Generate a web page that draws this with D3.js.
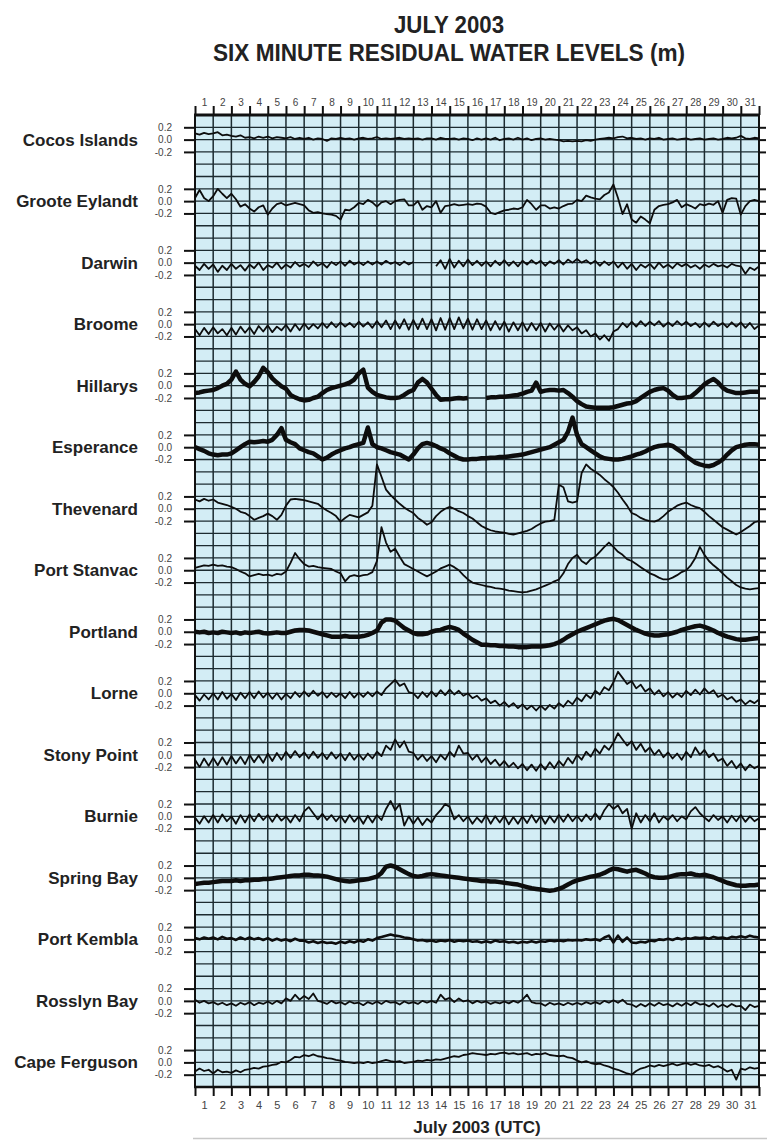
<!DOCTYPE html>
<html>
<head>
<meta charset="utf-8">
<script src="https://cdn.jsdelivr.net/npm/d3@7"></script>
<style>
  body { margin: 0; background: #fff; }
  svg { display: block; font-family: "Liberation Sans", Arial, sans-serif; }
</style>
</head>
<body>
<script>
// Station names, top to bottom
const stations = ["Cocos Islands", "Groote Eylandt", "Darwin", "Broome", "Hillarys", "Esperance",
  "Thevenard", "Port Stanvac", "Portland", "Lorne", "Stony Point", "Burnie", "Spring Bay",
  "Port Kembla", "Rosslyn Bay", "Cape Ferguson"];

// Residuals (m), read every quarter day from 1 July 00:00 to 1 August 00:00 (null = no data)
const cocos = [.10,.08,.11,.09, .10,.12,.07,.08, .06,.05,.07,.03, .04,.02,.05,.03, .05,.02,.04,.03,
  .02,.04,.01,.03, .01,.03,.00,.02, .01,-.02,.02,.01, .03,.01,.02,.00, .02,.03,.01,.02,
  .04,.01,.02,.01, .02,.03,.01,.02, .01,.02,.00,.02, .02,.00,.03,.01, .01,.02,.00,.02,
  .01,-.01,.02,.00, .02,.00,.03,-.01, .01,.02,.00,.03, .00,.02,-.01,.01, .02,.00,.01,.00,
  -.01,-.03,-.02,-.03, -.02,-.03,-.01,-.02, .00,.01,.02,.03, .02,.04,.05,.02, .03,.01,.02,.00,
  .02,.01,.03,.00, .01,.02,.00,.01, .02,.00,.01,.02, .00,.01,.02,.00, .01,.03,.02,.03,
  .06,.02,.01,.03, .02];
const groote = [.05,.18,.05,.00, .08,.20,.12,.05, .12,.03,-.09,-.05, -.12,-.17,-.10,-.07, -.22,-.12,-.05,-.03,
  -.07,-.05,-.03,-.05, -.07,-.15,-.19,-.18, -.20,-.21,-.22,-.24, -.30,-.14,-.15,-.10, -.03,-.05,.02,-.02,
  -.09,-.02,.00,-.05, .00,.02,.03,-.07, -.07,.00,-.14,-.08, -.10,.00,-.19,-.08, -.07,-.05,-.07,-.06,
  -.05,-.06,-.04,-.05, -.09,-.19,-.21,-.18, -.15,-.14,-.12,-.13, -.10,.02,-.05,-.14, -.07,-.07,-.12,-.10,
  -.12,-.08,-.05,-.04, .02,.00,.09,.06, .04,.03,.10,.14, .27,.05,-.21,-.05, -.30,-.35,-.25,-.30,
  -.36,-.14,-.08,-.06, -.05,-.02,.02,-.10, -.05,-.08,-.12,-.05, -.07,-.04,-.06,.00, -.19,.02,.05,.04,
  -.22,-.08,.00,.02, .00];
const darwin = [-.05,-.12,-.02,-.10, -.03,-.15,-.05,-.12, -.02,-.10,-.04,-.13, -.03,-.09,.00,-.12, -.04,-.08,.00,-.10,
  -.03,-.08,.01,-.06, -.02,-.07,.02,-.05, -.01,-.08,.01,-.04, .02,-.05,.03,-.03, .01,-.04,.02,-.03,
  .02,-.03,.03,-.02, .01,-.04,.02,-.03, .01,null,null,null, null,-.06,.04,-.10, .06,-.08,.03,-.06,
  .05,-.04,.03,-.05, .02,-.06,.03,-.04, .04,-.05,.02,-.06, .03,-.03,.04,-.02, .03,-.05,.02,-.02,
  .04,-.03,.05,.00, .06,.00,.04,-.02, .03,-.05,.02,-.04, .02,-.08,.00,-.10, -.02,-.12,-.03,-.08,
  -.02,-.10,.00,-.08, -.03,-.09,-.01,-.06, -.02,-.08,-.04,-.10, -.03,-.07,-.02,-.06, -.04,-.08,-.02,-.05,
  -.06,-.18,-.08,-.12, -.06];
const broome = [-.08,-.18,-.06,-.16, -.05,-.15,-.08,-.18, -.06,-.17,-.04,-.14, -.05,-.16,-.03,-.12, -.02,-.13,-.04,-.10,
  -.01,-.12,.00,-.10, .01,-.08,.00,-.07, .02,-.06,.03,-.05, .03,-.04,.02,-.05, .04,-.04,.03,-.06,
  .05,-.05,.06,-.08, .06,-.07,.08,-.09, .07,-.08,.09,-.08, .08,-.10,.10,-.09, .10,-.08,.11,-.07,
  .09,-.09,.08,-.08, .06,-.10,.05,-.09, .04,-.12,.03,-.10, .03,-.11,.02,-.10, .02,-.12,.01,-.09,
  .00,-.12,-.02,-.10, -.05,-.15,-.10,-.20, -.15,-.25,-.18,-.27, -.12,-.08,.02,-.05, .04,-.04,.05,-.03,
  .04,-.02,.05,-.04, .03,-.03,.05,-.02, .04,-.03,.02,-.05, .03,-.04,.04,-.03, .02,-.05,.03,-.04,
  .03,-.06,.02,-.08, -.02];
const hillarys = [-.12,-.11,-.09,-.08, -.07,-.04,.00,.03, .10,.23,.10,.03, -.01,.06,.15,.29, .22,.12,.05,-.01,
  -.05,-.15,-.19,-.22, -.24,-.23,-.20,-.18, -.12,-.07,-.04,-.02, .00,.02,.05,.10, .20,.26,-.03,-.10,
  -.15,-.17,-.19,-.20, -.20,-.19,-.15,-.10, -.07,.05,.11,.05, -.05,-.15,-.23,-.22, -.22,-.21,-.20,-.21,
  -.20,null,null,null, -.20,-.19,-.19,-.18, -.18,-.17,-.16,-.15, -.13,-.10,-.08,.05, -.10,-.08,-.07,-.07,
  -.08,-.07,-.12,-.18, -.25,-.30,-.34,-.35, -.36,-.36,-.36,-.36, -.35,-.33,-.31,-.29, -.28,-.25,-.20,-.15,
  -.10,-.07,-.05,-.04, -.08,-.15,-.20,-.20, -.19,-.18,-.12,-.05, .02,.07,.11,.05, -.03,-.08,-.10,-.12,
  -.12,-.11,-.10,-.10, -.10];
const esperance = [.00,-.03,-.06,-.10, -.12,-.13,-.12,-.12, -.10,-.05,.00,.05, .09,.08,.09,.10, .09,.12,.20,.31,
  .12,.08,.05,-.02, -.05,-.08,-.10,-.15, -.20,-.17,-.12,-.08, -.05,-.02,.00,.03, .05,.07,.32,.05,
  .00,-.02,-.05,-.08, -.10,-.12,-.16,-.20, -.12,-.02,.05,.07, .05,.02,-.02,-.05, -.10,-.14,-.18,-.20,
  -.20,-.19,-.19,-.18, -.18,-.17,-.17,-.16, -.16,-.15,-.14,-.13, -.12,-.10,-.08,-.06, -.04,-.02,.00,.04,
  .08,.12,.25,.48, .20,.05,.00,-.05, -.10,-.15,-.18,-.19, -.20,-.20,-.19,-.17, -.15,-.12,-.10,-.07,
  -.03,.00,.02,.03, .04,.02,-.03,-.08, -.15,-.20,-.25,-.28, -.30,-.31,-.29,-.25, -.20,-.12,-.05,.00,
  .02,.04,.05,.05, .04];
const thevenard = [.15,.12,.16,.13, .15,.10,.08,.06, .03,.00,-.05,-.07, -.12,-.18,-.15,-.12, -.08,-.12,-.18,-.10,
  .05,.15,.16,.15, .14,.12,.10,.08, .02,-.03,-.07,-.12, -.21,-.15,-.10,-.12, -.14,-.10,-.06,.05,
  .72,.52,.31,.22, .15,.08,.02,-.03, -.07,-.15,-.20,-.26, -.22,-.12,-.05,.00, .03,.00,-.04,-.07,
  -.12,-.16,-.22,-.28, -.32,-.35,-.37,-.38, -.39,-.41,-.42,-.40, -.38,-.36,-.33,-.28, -.24,-.21,-.20,-.18,
  .39,.35,.12,.10, .12,.58,.72,.65, .60,.55,.48,.42, .35,.26,.15,.05, -.07,-.10,-.15,-.18,
  -.20,-.21,-.18,-.12, -.05,.00,.05,.08, .10,.06,.03,.01, -.05,-.12,-.18,-.24, -.30,-.34,-.38,-.42,
  -.38,-.33,-.28,-.22, -.20];
const portStanvac = [.04,.06,.08,.07, .09,.07,.08,.06, .05,.02,-.02,-.05, -.10,-.08,-.06,-.08, -.07,-.09,-.06,-.07,
  -.02,.12,.28,.18, .10,.06,.07,.05, .04,.03,.02,-.02, -.05,-.18,-.10,-.08, -.10,-.08,-.07,-.03,
  .15,.70,.45,.30, .35,.22,.10,.06, .02,-.02,-.06,-.10, -.06,-.02,.03,.06, .09,.05,.00,-.08,
  -.15,-.20,-.22,-.24, -.26,-.27,-.29,-.30, -.31,-.33,-.34,-.35, -.36,-.35,-.33,-.31, -.28,-.25,-.22,-.18,
  -.15,-.05,.10,.20, .25,.15,.10,.18, .22,.30,.38,.45, .38,.30,.25,.18, .15,.10,.05,.00,
  -.05,-.08,-.12,-.15, -.15,-.12,-.08,-.03, .00,.08,.20,.38, .25,.15,.08,.02, -.05,-.12,-.18,-.24,
  -.28,-.30,-.31,-.30, -.29];
const portland = [.00,-.01,.00,-.02, -.01,-.02,.00,-.01, -.02,-.01,-.03,-.01, -.02,-.01,.00,-.02, -.03,-.02,-.01,-.02,
  -.02,.00,.02,.03, .03,.02,.00,-.02, -.04,-.06,-.08,-.08, -.08,-.07,-.08,-.08, -.08,-.07,-.05,-.02,
  .02,.15,.20,.20, .18,.12,.06,.02, -.02,-.04,-.04,-.03, .00,.02,.03,.06, .08,.06,.03,-.03,
  -.08,-.13,-.17,-.21, -.21,-.22,-.22,-.23, -.23,-.24,-.24,-.25, -.25,-.25,-.24,-.24, -.24,-.23,-.22,-.20,
  -.17,-.13,-.08,-.04, .00,.03,.06,.09, .12,.15,.18,.20, .21,.19,.15,.11, .07,.03,.00,-.03,
  -.05,-.06,-.06,-.05, -.04,-.02,.00,.03, .05,.07,.09,.10, .08,.05,.02,-.02, -.05,-.08,-.10,-.12,
  -.13,-.13,-.12,-.11, -.10];
const lorne = [-.03,-.12,-.02,-.10, .00,-.10,.02,-.09, -.01,-.11,.01,-.08, .02,-.08,.03,-.07, .01,-.09,.00,-.10,
  -.01,-.08,.02,-.06, .03,-.05,.04,-.04, .02,-.07,.01,-.06, .00,-.08,.02,-.07, .01,-.06,.02,-.05,
  .03,-.03,.08,.15, .22,.12,.16,.02, .00,-.08,.02,-.06, .03,-.05,.05,-.03, .06,-.02,.04,-.04,
  .00,-.08,-.04,-.12, -.08,-.16,-.12,-.20, -.14,-.22,-.16,-.24, -.18,-.26,-.20,-.28, -.20,-.27,-.19,-.25,
  -.16,-.22,-.12,-.18, -.07,-.13,-.02,-.08, .04,-.02,.10,.05, .18,.35,.25,.15, .20,.08,.14,.03,
  .08,-.02,.05,-.05, .02,-.07,.00,-.06, .04,-.03,.06,-.02, .08,.00,.05,-.06, -.02,-.10,-.06,-.14,
  -.10,-.18,-.12,-.16, -.10];
const stonyPoint = [-.08,-.20,-.06,-.18, -.05,-.17,-.04,-.16, -.02,-.14,-.03,-.15, .00,-.12,-.01,-.13, .02,-.10,.03,-.08,
  .05,-.05,.06,-.04, .04,-.06,.05,-.05, .03,-.07,.04,-.06, .02,-.09,.03,-.08, .01,-.08,.02,-.06,
  .05,-.02,.15,.08, .25,.12,.22,.05, .03,-.08,.00,-.10, -.02,-.12,.00,-.08, .05,-.03,.15,.02,
  .03,-.08,.00,-.12, -.04,-.15,-.08,-.18, -.10,-.20,-.13,-.22, -.15,-.25,-.16,-.26, -.15,-.24,-.12,-.22,
  -.10,-.18,-.05,-.14, .00,-.08,.05,-.03, .10,.02,.15,.08, .20,.35,.25,.15, .22,.08,.18,.05,
  .12,.00,.08,-.04, .04,-.06,.02,-.08, .05,-.04,.12,.00, .08,-.04,.02,-.10, -.06,-.18,-.10,-.22,
  -.14,-.25,-.16,-.22, -.18];
const burnie = [-.02,-.12,.00,-.10, .02,-.10,.03,-.08, .00,-.12,.02,-.10, .03,-.08,.04,-.06, .02,-.09,.03,-.07,
  .00,-.10,.02,-.08, .08,.15,.05,-.05, .04,-.06,.02,-.08, .01,-.10,.02,-.09, .00,-.12,.01,-.10,
  .02,-.06,.12,.25, .10,.20,-.15,.00, -.12,-.02,-.14,-.04, -.10,.02,.10,.20, .15,-.05,.02,-.08,
  .00,-.12,-.02,-.10, .02,-.12,.00,-.10, .01,-.13,-.01,-.12, .00,-.11,.02,-.10, .01,-.12,.00,-.10,
  .02,-.09,.03,-.08, .01,-.08,.03,-.06, .05,-.05,.10,.20, .12,.18,.05,.12, -.20,.05,-.10,.02,
  -.08,.05,-.10,.00, -.06,.02,-.08,.00, -.05,.08,.15,.05, -.02,-.08,.02,-.06, .00,-.10,.01,-.08,
  .02,-.09,.00,-.08, -.03];
const springBay = [-.10,-.09,-.08,-.08, -.07,-.06,-.05,-.05, -.05,-.04,-.05,-.04, -.04,-.03,-.03,-.02, -.02,-.01,.00,.01,
  .02,.03,.04,.04, .05,.05,.04,.04, .03,.02,.00,-.02, -.04,-.05,-.06,-.05, -.04,-.03,-.02,.00,
  .02,.08,.18,.20, .18,.14,.10,.06, .03,.02,.03,.05, .06,.05,.04,.03, .02,.01,.00,-.01,
  -.02,-.03,-.04,-.05, -.05,-.06,-.06,-.07, -.08,-.09,-.10,-.11, -.13,-.15,-.17,-.18, -.19,-.20,-.21,-.20,
  -.18,-.15,-.11,-.07, -.04,-.02,.00,.02, .03,.05,.08,.12, .15,.14,.12,.10, .12,.13,.10,.07,
  .03,.01,.00,.00, .01,.03,.05,.06, .06,.07,.05,.04, .05,.03,.01,-.02, -.05,-.08,-.10,-.12,
  -.13,-.13,-.12,-.12, -.11];
const portKembla = [.02,.00,.03,.01, .03,.00,.04,.01, .02,-.01,.03,.00, .03,.00,.02,-.01, .02,-.02,.01,-.02,
  .00,-.03,.01,-.02, -.02,-.05,-.03,-.06, -.04,-.06,-.05,-.07, -.04,-.06,-.03,-.05, -.02,-.04,.00,-.02,
  .02,.04,.06,.08, .06,.05,.03,.02, .00,-.02,-.01,-.03, -.02,-.04,-.02,-.03, -.01,-.04,-.02,-.03,
  -.02,-.04,-.03,-.05, -.03,-.05,-.02,-.04, -.03,-.05,-.04,-.06, -.04,-.05,-.03,-.05, -.03,-.04,-.02,-.03,
  -.02,-.03,-.01,-.02, -.01,-.02,.00,-.01, .00,-.02,.03,.06, -.05,.06,-.04,.03, -.05,-.06,-.04,-.05,
  -.02,-.03,.00,-.01, .01,-.01,.02,.00, .02,.01,.03,.02, .03,.01,.04,.02, .03,.01,.04,.03,
  .05,.03,.06,.04, .03];
const rosslynBay = [.02,-.03,.00,-.04, -.02,-.06,-.03,-.07, -.04,-.08,-.03,-.06, -.02,-.07,-.03,-.05, -.01,-.05,.00,-.04,
  .04,.00,.10,.02, .08,.03,.12,.00, -.02,-.05,.00,-.04, -.02,-.06,-.01,-.04, -.03,-.07,-.02,-.05,
  -.01,-.05,.00,-.03, -.02,-.06,-.01,-.04, -.02,-.05,.00,-.03, .00,-.03,.10,.02, .05,-.02,.04,-.01,
  .01,-.04,.00,-.03, -.01,-.05,-.02,-.04, -.01,-.04,.00,-.03, .02,.10,-.02,-.04, -.04,-.08,-.03,-.06,
  -.04,-.07,-.03,-.06, -.03,-.06,-.02,-.05, -.02,-.05,.00,-.03, .01,-.03,.02,-.05, -.06,-.10,-.05,-.09,
  -.04,-.08,-.03,-.07, -.05,-.09,-.04,-.08, -.03,-.07,-.02,-.06, -.05,-.09,-.04,-.10, -.06,-.10,-.05,-.09,
  -.08,-.15,-.06,-.10, -.08];
const capeFerguson = [-.15,-.10,-.14,-.12, -.18,-.12,-.16,-.15, -.17,-.13,-.16,-.12, -.11,-.09,-.10,-.07, -.06,-.04,-.03,.01,
  .00,.04,.09,.08, .12,.10,.13,.10, .09,.07,.06,.04, .03,.01,.00,-.01, .00,-.01,.01,-.01,
  .00,.02,.04,.02, .01,.02,-.01,.00, .01,.03,.02,.04, .03,.05,.04,.06, .08,.10,.09,.12,
  .13,.15,.14,.13, .12,.14,.13,.15, .16,.14,.15,.13, .14,.15,.12,.14, .13,.15,.12,.11,
  .10,.11,.08,.07, .03,.00,.02,-.01, -.03,-.02,-.05,-.07, -.10,-.12,-.15,-.18, -.20,-.14,-.10,-.08,
  -.05,-.07,-.04,-.06, -.04,-.02,-.05,-.03, -.01,-.04,-.02,-.05, -.06,-.04,-.08,-.06, -.10,-.15,-.12,-.28,
  -.10,-.12,-.08,-.10, -.09];

const series = [cocos, groote, darwin, broome, hillarys, esperance, thevenard, portStanvac,
  portland, lorne, stonyPoint, burnie, springBay, portKembla, rosslynBay, capeFerguson];

const dayLabels = ["1","2","3","4","5","6","7","8","9","10","11","12","13","14","15","16",
  "17","18","19","20","21","22","23","24","25","26","27","28","29","30","31"];
const levelTicks = [0.2, 0.0, -0.2];
const STEP = 0.25;   // days between samples
const SPAN = 1.0;    // metres between station baselines
const thickTraces = ["Hillarys", "Esperance", "Portland", "Spring Bay"];

const W = 770, H = 1140;
const plot = {left: 195, right: 759, top: 115, bottom: 1087};

const svg = d3.select("body").append("svg")
  .attr("width", W)
  .attr("height", H);

svg.append("rect").attr("width", W).attr("height", H).attr("fill", "#fff");

const x = d3.scaleLinear().domain([0, dayLabels.length]).range([plot.left, plot.right]);
const y = d3.scaleLinear()
  .domain([2 * levelTicks[0], -(stations.length - 1) * SPAN - 2 * levelTicks[0]])
  .range([plot.top, plot.bottom]);

// Titles
svg.append("text")
  .attr("x", 449).attr("y", 33)
  .attr("text-anchor", "middle")
  .attr("font-size", 24).attr("font-weight", "bold").attr("fill", "#222")
  .attr("textLength", 110).attr("lengthAdjust", "spacingAndGlyphs")
  .text("JULY 2003");
svg.append("text")
  .attr("x", 449).attr("y", 61)
  .attr("text-anchor", "middle")
  .attr("font-size", 24).attr("font-weight", "bold").attr("fill", "#222")
  .attr("textLength", 472).attr("lengthAdjust", "spacingAndGlyphs")
  .text("SIX MINUTE RESIDUAL WATER LEVELS (m)");

// Plot background
svg.append("rect")
  .attr("x", plot.left).attr("y", plot.top)
  .attr("width", plot.right - plot.left).attr("height", plot.bottom - plot.top)
  .attr("fill", "#d3edf5");

// Grid
const grid = svg.append("g").attr("stroke", "#1c2b30");
const hLines = d3.range(1, Math.round((y.domain()[0] - y.domain()[1]) / levelTicks[0]))
  .map(k => y.domain()[0] - k * levelTicks[0]);
grid.selectAll(".h").data(hLines).join("line")
  .attr("x1", plot.left).attr("x2", plot.right)
  .attr("y1", d => y(d)).attr("y2", d => y(d))
  .attr("stroke-width", 1.3);
grid.selectAll(".v").data(d3.range(1, dayLabels.length)).join("line")
  .attr("x1", d => x(d)).attr("x2", d => x(d))
  .attr("y1", plot.top).attr("y2", plot.bottom)
  .attr("stroke-width", 1.5);

// Day axes: ticks on day boundaries, labels at mid-day
const dayTicks = d3.range(0, dayLabels.length + 1);
const midDays = dayLabels.map((d, i) => i + 0.5);

function styleAxis(g) {
  g.select(".domain").remove();
  g.selectAll(".tick line").attr("stroke", "#111").attr("stroke-width", 2);
  g.selectAll(".tick text").attr("fill", "#444").attr("font-family", "Liberation Sans, Arial, sans-serif");
}

svg.append("g")
  .attr("transform", `translate(0,${plot.top})`)
  .call(d3.axisTop(x).tickValues(dayTicks).tickSize(9).tickFormat(""))
  .call(styleAxis);
svg.append("g")
  .attr("transform", `translate(0,${plot.top - 6})`)
  .call(d3.axisTop(x).tickValues(midDays).tickSize(0).tickFormat((d, i) => dayLabels[i]))
  .call(styleAxis)
  .selectAll("text").attr("font-size", 10);

svg.append("g")
  .attr("transform", `translate(0,${plot.bottom})`)
  .call(d3.axisBottom(x).tickValues(dayTicks).tickSize(9).tickFormat(""))
  .call(styleAxis);
svg.append("g")
  .attr("transform", `translate(0,${plot.bottom + 11})`)
  .call(d3.axisBottom(x).tickValues(midDays).tickSize(0).tickFormat((d, i) => dayLabels[i]))
  .call(styleAxis)
  .selectAll("text").attr("font-size", 11);

// Level axes for every station
const levelValues = stations.flatMap((s, i) => levelTicks.map(l => -i * SPAN + l));
const levelFormat = d => {
  const l = d - Math.round(d / SPAN) * SPAN;
  return Math.abs(l) < 1e-6 ? "0.0" : l.toFixed(1);
};

svg.append("g")
  .attr("transform", `translate(${plot.left},0)`)
  .call(d3.axisLeft(y).tickValues(levelValues).tickSize(11).tickPadding(12).tickFormat(levelFormat))
  .call(styleAxis)
  .selectAll("text").attr("font-size", 10);
svg.append("g")
  .attr("transform", `translate(${plot.right},0)`)
  .call(d3.axisRight(y).tickValues(levelValues).tickSize(7).tickFormat(""))
  .call(styleAxis);

// Frame
const frame = svg.append("g").attr("stroke", "#111").attr("fill", "none");
frame.append("line").attr("x1", plot.left - 1).attr("x2", plot.right + 1)
  .attr("y1", plot.top).attr("y2", plot.top).attr("stroke-width", 3);
frame.append("line").attr("x1", plot.left - 1).attr("x2", plot.right + 1)
  .attr("y1", plot.bottom).attr("y2", plot.bottom).attr("stroke-width", 2.5);
frame.append("line").attr("x1", plot.left).attr("x2", plot.left)
  .attr("y1", plot.top).attr("y2", plot.bottom).attr("stroke-width", 2);
frame.append("line").attr("x1", plot.right).attr("x2", plot.right)
  .attr("y1", plot.top).attr("y2", plot.bottom).attr("stroke-width", 2);

// Station names
svg.append("g").selectAll("text").data(stations).join("text")
  .attr("x", 138)
  .attr("y", (d, i) => y(-i * SPAN))
  .attr("dy", "0.35em")
  .attr("text-anchor", "end")
  .attr("font-size", 17).attr("font-weight", "bold").attr("fill", "#222")
  .text(d => d);

// Residual traces
const traces = svg.append("g").attr("fill", "none").attr("stroke", "#0d0d0d")
  .attr("stroke-linejoin", "round");
series.forEach((values, i) => {
  const line = d3.line()
    .defined(v => v !== null)
    .x((v, j) => x(j * STEP))
    .y(v => y(-i * SPAN + v));
  traces.append("path")
    .datum(values)
    .attr("stroke-width", thickTraces.includes(stations[i]) ? 4.5 : (stations[i] === "Port Kembla" ? 2.6 : 1.8))
    .attr("d", line);
});

// X axis title
svg.append("text")
  .attr("x", (plot.left + plot.right) / 2).attr("y", 1133)
  .attr("text-anchor", "middle")
  .attr("font-size", 17).attr("font-weight", "bold").attr("fill", "#222")
  .text("July 2003 (UTC)");

svg.append("line")
  .attr("x1", 193).attr("x2", 767).attr("y1", 1138.5).attr("y2", 1138.5)
  .attr("stroke", "#c8c8c8").attr("stroke-width", 1.5);
</script>
</body>
</html>
